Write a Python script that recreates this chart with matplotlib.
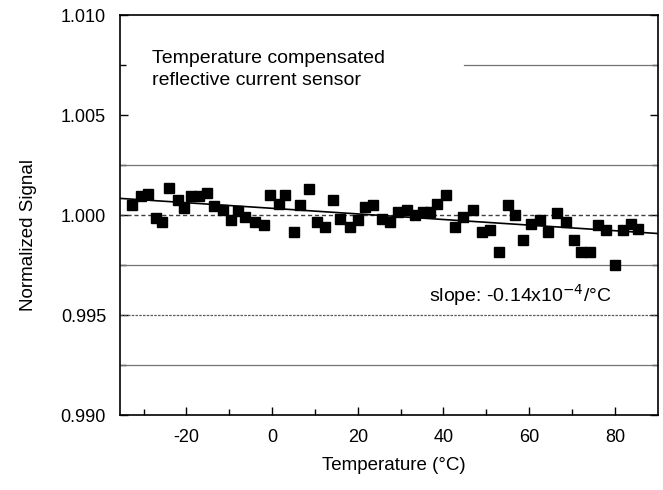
import matplotlib.pyplot as plt

plt.rcParams['font.family'] = ['Liberation Sans', 'DejaVu Sans']
plt.rcParams['axes.unicode_minus'] = False

# temperature (deg C) and normalized signal
temp = [-32.6, -30.7, -29.0, -27.2, -25.6, -24.1, -22.0, -20.6, -18.9, -17.1,
        -15.3, -13.6, -11.4, -9.7, -8.0, -6.3, -4.0, -2.0, -0.5, 1.5,
        3.0, 5.0, 6.5, 8.5, 10.4, 12.4, 14.3, 15.9, 18.2, 20.1,
        21.7, 23.6, 25.6, 27.5, 29.4, 31.4, 33.3, 35.3, 36.8, 38.4,
        40.7, 42.7, 44.6, 46.9, 48.9, 50.8, 53.0, 55.1, 56.6, 58.6,
        60.5, 62.5, 64.4, 66.5, 68.5, 70.4, 72.2, 74.1, 76.1, 78.0,
        80.0, 81.9, 83.8, 85.4]
signal = [1.00053, 1.00098, 1.00107, 0.99987, 0.99965, 1.00137, 1.00075, 1.00037, 1.00095, 1.00098,
          1.00112, 1.00048, 1.00028, 0.99978, 1.00020, 0.99992, 0.99967, 0.99950, 1.00100, 1.00058,
          1.00100, 0.99917, 1.00053, 1.00133, 0.99967, 0.99942, 1.00075, 0.99983, 0.99942, 0.99975,
          1.00042, 1.00050, 0.99983, 0.99967, 1.00017, 1.00025, 1.00000, 1.00017, 1.00017, 1.00058,
          1.00100, 0.99942, 0.99992, 1.00025, 0.99917, 0.99925, 0.99817, 1.00050, 1.00000, 0.99875,
          0.99958, 0.99975, 0.99917, 1.00012, 0.99967, 0.99875, 0.99817, 0.99817, 0.99950, 0.99925,
          0.99750, 0.99925, 0.99958, 0.99933]

# linear trend
slope = -0.14e-4
intercept = 1.00034
fit_x = [-35.5, 90]

fig = plt.figure(figsize=(6.63, 4.90), dpi=100)
ax = fig.add_axes([0.181, 0.153, 0.811, 0.816])

# reference lines of the original figure
ax.axhline(1.0025, color='0.45', lw=0.9)
ax.axhline(1.0000, color='0.25', lw=1.0, ls=(0, (3, 2)))
ax.axhline(0.9975, color='0.45', lw=0.9)
ax.axhline(0.9950, color='0.35', lw=0.9, ls=(0, (2, 1)))
ax.axhline(0.9925, color='0.45', lw=0.9)
ax.axhline(1.0075, xmin=0.64, xmax=1.0, color='0.45', lw=0.9)

ax.plot(temp, signal, 's', color='black', ms=7)
ax.plot(fit_x, [intercept + slope * t for t in fit_x], color='black', lw=1.2)

ax.set_xlim(-35.5, 90)
ax.set_ylim(0.990, 1.010)
ax.set_xticks([-20, 0, 20, 40, 60, 80])
ax.set_xticks([-30, -10, 10, 30, 50, 70], minor=True)
ax.set_yticks([0.990, 0.995, 1.000, 1.005, 1.010])
ax.set_yticklabels(['0.990', '0.995', '1.000', '1.005', '1.010'])
ax.set_yticks([0.9925, 0.9975, 1.0025, 1.0075], minor=True)
ax.tick_params(which='both', direction='in', top=False, right=True, labelsize=13, width=1)
ax.tick_params(which='major', length=6, pad=10)
ax.tick_params(which='minor', length=4)
for s in ax.spines.values():
    s.set_linewidth(1.2)

ax.set_xlabel('Temperature (°C)', fontsize=13.5, labelpad=8)
ax.xaxis.set_label_coords(0.51, -0.105)
ax.set_ylabel('Normalized Signal', fontsize=13.5, labelpad=8)
ax.yaxis.set_label_coords(-0.155, 0.45)

ax.text(0.06, 0.865, 'Temperature compensated\nreflective current sensor',
        transform=ax.transAxes, fontsize=14, va='center', ha='left', linespacing=1.4)
ax.text(0.915, 0.30, 'slope: -0.14x10$^{-4}$/°C', transform=ax.transAxes,
        fontsize=14, va='center', ha='right')

plt.savefig('out.png', dpi=100)
